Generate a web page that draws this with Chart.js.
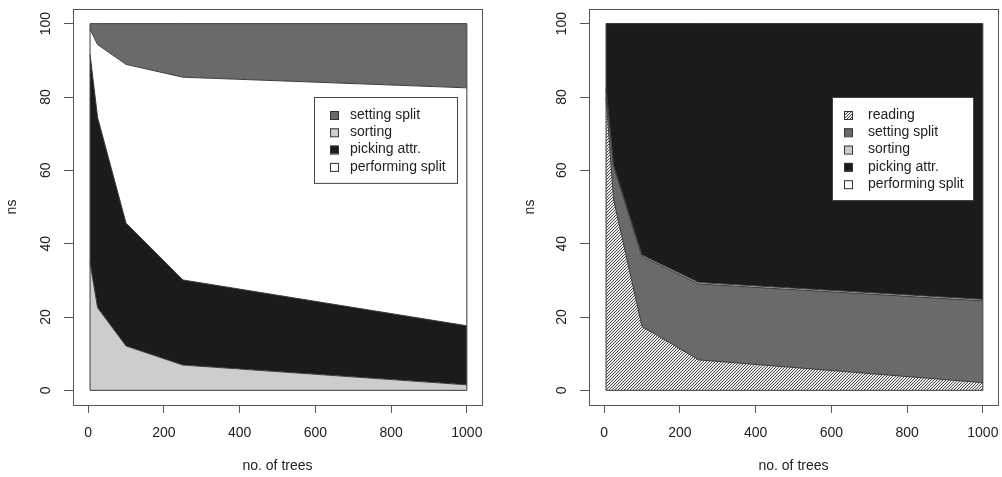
<!DOCTYPE html>
<html>
<head>
<meta charset="utf-8">
<script src="https://cdn.jsdelivr.net/npm/chart.js@4.4.0/dist/chart.umd.min.js"></script>
<style>
  html, body { margin: 0; padding: 0; background: #fff; }
  #wrap { position: relative; width: 1002px; height: 477px; }
  canvas { position: absolute; top: 0; }
  #left { left: 0; }
  #right { left: 501px; }
</style>
</head>
<body>
<div id="wrap">
  <canvas id="left" width="501" height="477"></canvas>
  <canvas id="right" width="501" height="477"></canvas>
</div>
<script>
// no. of trees
var trees = [5, 25, 100, 250, 1000];
var xTicks = [0, 200, 400, 600, 800, 1000];
var yTicks = [0, 20, 40, 60, 80, 100];

// left panel (stacked from the bottom)
var leftSorting    = [34.8, 22.5, 12.1, 6.9, 1.5];
var leftPicking    = [56.8, 51.9, 33.5, 23.2, 16.1];
var leftPerforming = [6.9, 19.9, 43.3, 55.3, 64.9];
var leftSetting    = [1.5, 5.7, 11.1, 14.6, 17.5];
var leftLegend = ['setting split', 'sorting', 'picking attr.', 'performing split'];

// right panel (stacked from the bottom)
var rightReading    = [80.0, 52.0, 17.4, 8.3, 2.1];
var rightSetting    = [2.0, 9.0, 19.1, 20.7, 22.3];
var rightSorting    = [0.3, 0.4, 0.4, 0.4, 0.4];
var rightPicking    = [17.7, 38.6, 63.1, 70.6, 75.2];
var rightPerforming = [0, 0, 0, 0, 0];
var rightLegend = ['reading', 'setting split', 'sorting', 'picking attr.', 'performing split'];

var FONT = 'Liberation Sans, Arial, Helvetica, sans-serif';
var TEXT = '#222';

// diagonal hatching like R's density= fill
function makeHatch() {
    var c = document.createElement('canvas');
    c.width = 3; c.height = 3;
    var g = c.getContext('2d');
    g.fillStyle = '#ececec';
    g.fillRect(0, 0, 3, 3);
    g.fillStyle = '#4a4a4a';
    for (var i = 0; i < 3; i++) g.fillRect(i, 2 - i, 1, 1);
    return g.createPattern(c, 'repeat');
}

var colors = {
    'reading': makeHatch(),
    'setting split': '#6a6a6a',
    'sorting': '#cdcdcd',
    'picking attr.': '#1b1b1b',
    'performing split': '#ffffff'
};

function layer(label, values, first) {
    return {
        label: label,
        data: trees.map(function (t, i) { return {x: t, y: values[i]}; }),
        backgroundColor: colors[label],
        borderColor: '#3a3a3a',
        borderWidth: 1,
        pointRadius: 0,
        tension: 0,
        fill: first ? 'origin' : '-1'
    };
}

// box around the plot, polygon edges, and an R-style legend
var framePlugin = {
    id: 'frame',
    afterDatasetsDraw: function (chart) {
        var ctx = chart.ctx, xs = chart.scales.x, ys = chart.scales.y;
        var x0 = xs.getPixelForValue(trees[0]), x1 = xs.getPixelForValue(trees[trees.length - 1]);
        var y0 = ys.getPixelForValue(0), y1 = ys.getPixelForValue(100);
        ctx.save();
        ctx.strokeStyle = '#3a3a3a';
        ctx.lineWidth = 1;
        ctx.beginPath();
        ctx.moveTo(x0, y1); ctx.lineTo(x0, y0); ctx.lineTo(x1, y0); ctx.lineTo(x1, y1);
        ctx.stroke();
        ctx.restore();
    },
    afterDraw: function (chart) {
        var ctx = chart.ctx, a = chart.chartArea;
        ctx.save();
        ctx.strokeStyle = '#555';
        ctx.lineWidth = 1;
        ctx.strokeRect(Math.round(a.left) + 0.5, Math.round(a.top) + 0.5,
            Math.round(a.right - a.left), Math.round(a.bottom - a.top));

        var lg = chart.options.plugins.boxLegend;
        var rowH = 17.3;
        var h = 17 + rowH * (lg.items.length - 1) + 17;
        ctx.fillStyle = '#fff';
        ctx.fillRect(lg.left, lg.top, lg.width, h);
        ctx.strokeStyle = '#444';
        ctx.strokeRect(lg.left + 0.5, lg.top + 0.5, lg.width, h);
        ctx.font = '14px ' + FONT;
        ctx.textBaseline = 'middle';
        ctx.textAlign = 'left';
        lg.items.forEach(function (name, i) {
            var cy = lg.top + 18 + i * rowH;
            ctx.fillStyle = colors[name];
            ctx.fillRect(lg.left + lg.swatch, cy - 4, 8, 8);
            ctx.strokeStyle = '#333';
            ctx.strokeRect(lg.left + lg.swatch + 0.5, cy - 4 + 0.5, 8, 8);
            ctx.fillStyle = TEXT;
            ctx.fillText(name, lg.left + 36, cy);
        });
        ctx.restore();
    }
};

function setTicks(list) {
    return function (scale) {
        scale.ticks = list.map(function (v) { return {value: v}; });
    };
}

function plain(v) { return String(v); }

function makeOptions(legendItems, legendBox, padLeft, padRight, yWidth) {
    legendBox.items = legendItems;
    return {
        responsive: false,
        animation: false,
        devicePixelRatio: 1,
        layout: { padding: { top: 9, left: padLeft, right: padRight, bottom: 0 } },
        plugins: {
            legend: { display: false },
            tooltip: { enabled: false },
            boxLegend: legendBox
        },
        scales: {
            x: {
                type: 'linear',
                min: -40,
                max: 1040,
                afterBuildTicks: setTicks(xTicks),
                afterFit: function (s) { s.height = 72; s.paddingLeft = 0; s.paddingRight = 0; },
                grid: { display: true, drawOnChartArea: false, drawTicks: true, tickLength: 8, tickColor: '#555' },
                border: { display: false },
                ticks: { callback: plain, autoSkip: false, maxRotation: 0, padding: 12, color: TEXT, font: { family: FONT, size: 14 } },
                title: { display: true, text: 'no. of trees', color: TEXT, font: { family: FONT, size: 14 }, padding: { top: 0, bottom: 2 } }
            },
            y: {
                type: 'linear',
                stacked: true,
                min: -4,
                max: 104,
                afterBuildTicks: setTicks(yTicks),
                afterFit: function (s) { s.width = yWidth; s.paddingTop = 0; s.paddingBottom = 0; },
                grid: { display: true, drawOnChartArea: false, drawTicks: true, tickLength: 9, tickColor: '#555' },
                border: { display: false },
                ticks: { callback: plain, minRotation: 90, maxRotation: 90, crossAlign: 'center', padding: 6, color: TEXT, font: { family: FONT, size: 14 } },
                title: { display: true, text: 'ns', color: TEXT, font: { family: FONT, size: 14 }, padding: { top: 4, bottom: 0 } }
            }
        }
    };
}

new Chart(document.getElementById('left'), {
    type: 'line',
    data: {
        datasets: [
            layer('sorting', leftSorting, true),
            layer('picking attr.', leftPicking),
            layer('performing split', leftPerforming),
            layer('setting split', leftSetting)
        ]
    },
    options: makeOptions(leftLegend, { left: 314, top: 97, width: 143, swatch: 16 }, 0, 19, 73),
    plugins: [framePlugin]
});

new Chart(document.getElementById('right'), {
    type: 'line',
    data: {
        datasets: [
            layer('reading', rightReading, true),
            layer('setting split', rightSetting),
            layer('sorting', rightSorting),
            layer('picking attr.', rightPicking),
            layer('performing split', rightPerforming)
        ]
    },
    options: makeOptions(rightLegend, { left: 331, top: 97, width: 141, swatch: 12 }, 17, 4, 71),
    plugins: [framePlugin]
});
</script>
</body>
</html>
